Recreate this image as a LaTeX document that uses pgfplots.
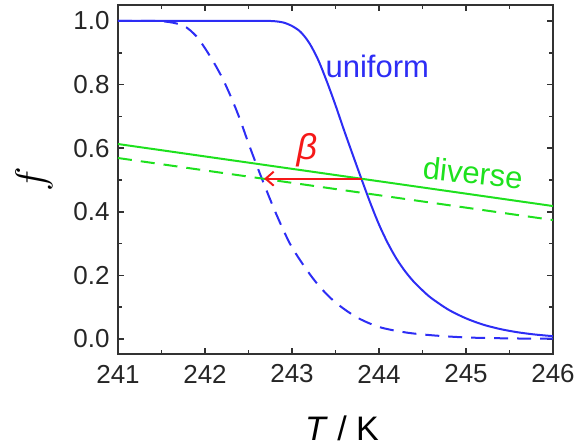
\documentclass[border=0pt]{standalone}
\usepackage{pgfplots}
\pgfplotsset{compat=1.18}
\usepackage{fontspec}
\setmainfont{Liberation Sans}
\usetikzlibrary{arrows.meta}
\definecolor{curveblue}{RGB}{45,45,245}
\definecolor{linegreen}{RGB}{30,225,30}
\definecolor{arrowred}{RGB}{245,25,25}
\definecolor{axgray}{RGB}{50,50,50}

\begin{document}
\begin{tikzpicture}
\begin{axis}[
  scale only axis, width=217.5pt, height=174.5pt,
  xmin=241, xmax=246, ymin=-0.047, ymax=1.05,
  xtick={241,242,243,244,245,246},
  ytick={0,0.2,0.4,0.6,0.8,1.0},
  minor x tick num=1, minor y tick num=1,
  tick align=inside, major tick length=3pt, minor tick length=2.2pt,
  axis line style={axgray, line width=1pt},
  every tick/.style={axgray, line width=0.8pt},
  /pgf/number format/assume math mode=true,
  ticklabel style={font=\fontsize{13}{15}\selectfont, black!85},
  yticklabel style={/pgf/number format/.cd, fixed, fixed zerofill, precision=1, /tikz/.cd,
    anchor=east, inner sep=0pt, xshift=-4pt},
  xticklabel style={/pgf/number format/1000 sep={}, anchor=center, yshift=-10pt},
  xlabel={\textit{T} / K},
  ylabel={$f$},
  xlabel style={font=\fontsize{17}{20}\selectfont, at={(axis description cs:0.515,0)}, anchor=center, yshift=-37pt},
  ylabel style={font=\fontsize{21}{24}\selectfont, at={(axis description cs:0,0.5)}, anchor=center, yshift=42pt},
  clip=true,
]
% uniform, solid
\addplot[curveblue, line width=1pt, smooth] coordinates {
  (241.0,1.000) (242.0,1.000) (242.5,1.000) (242.7,1.000) (242.8,0.999)
  (242.9,0.995) (243.0,0.984) (243.1,0.965) (243.2,0.930) (243.3,0.878)
  (243.4,0.810) (243.5,0.735) (243.6,0.655) (243.7,0.578) (243.8,0.502)
  (243.9,0.428) (244.0,0.360) (244.1,0.302) (244.2,0.253) (244.3,0.213)
  (244.4,0.180) (244.5,0.153) (244.6,0.129) (244.8,0.092) (245.0,0.065)
  (245.2,0.045) (245.4,0.031) (245.6,0.021) (245.8,0.014) (246.0,0.009)
};
% uniform, dashed
\addplot[curveblue, line width=1pt, smooth, dash pattern=on 7pt off 4.5pt] coordinates {
  (241.0,1.000) (241.5,0.999) (241.75,0.985) (241.9,0.952) (242.0,0.914)
  (242.1,0.870) (242.2,0.820) (242.3,0.760) (242.4,0.692) (242.5,0.615)
  (242.6,0.542) (242.7,0.472) (242.8,0.405) (242.9,0.343) (243.0,0.288)
  (243.17,0.217) (243.32,0.164) (243.5,0.115) (243.74,0.069) (244.0,0.038)
  (244.3,0.021) (244.6,0.012) (245.0,0.005) (245.5,0.002) (246.0,0.001)
};
% diverse
\addplot[linegreen, line width=1pt] coordinates {(241,0.613) (246,0.418)};
\addplot[linegreen, line width=1pt, dash pattern=on 7pt off 4.5pt] coordinates {(241,0.569) (246,0.374)};
% shift
\addplot[arrowred, line width=1pt, -{Straight Barb[length=4pt,width=7pt]}] coordinates {(243.8,0.504) (242.68,0.504)};
\node[curveblue, font=\fontsize{15.5}{18}\selectfont] at (axis cs:243.98,0.858) {uniform};
\node[linegreen, font=\fontsize{15.5}{18}\selectfont, rotate=-6] at (axis cs:245.08,0.522) {diverse};
\node[arrowred, font=\fontsize{18}{20}\selectfont\itshape] at (axis cs:243.17,0.594) {β};
\end{axis}
\pgfresetboundingbox
\path ([shift={(-59pt,-47pt)}]current axis.south west) rectangle ([shift={(11pt,2.5pt)}]current axis.north east);
\end{tikzpicture}
\end{document}
